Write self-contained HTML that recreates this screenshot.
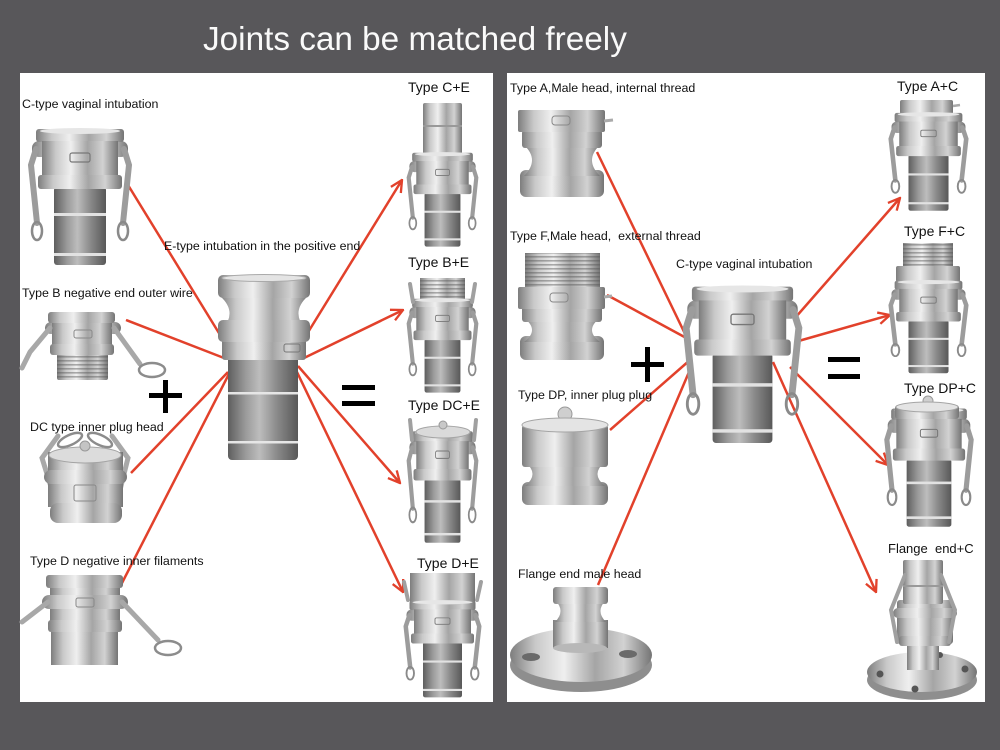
<!DOCTYPE html>
<html><head><meta charset="utf-8"><style>
html,body{margin:0;padding:0;background:#58575a;}
svg{display:block;}
text{font-family:"Liberation Sans",Arial,sans-serif;}
</style></head><body>
<svg width="1000" height="750" viewBox="0 0 1000 750" xmlns="http://www.w3.org/2000/svg">
<defs>
<linearGradient id="m" x1="0" x2="1" y1="0" y2="0">
<stop offset="0" stop-color="#7d7d7d"/><stop offset=".18" stop-color="#c9c9c9"/><stop offset=".38" stop-color="#efefef"/><stop offset=".6" stop-color="#a5a5a5"/><stop offset=".8" stop-color="#d2d2d2"/><stop offset="1" stop-color="#747474"/>
</linearGradient>
<linearGradient id="d" x1="0" x2="1" y1="0" y2="0">
<stop offset="0" stop-color="#5e5e5e"/><stop offset=".25" stop-color="#9a9a9a"/><stop offset=".45" stop-color="#bdbdbd"/><stop offset=".7" stop-color="#8a8a8a"/><stop offset="1" stop-color="#585858"/>
</linearGradient>
<pattern id="th" width="4" height="4" patternUnits="userSpaceOnUse"><rect width="4" height="1.6" fill="#555" opacity=".45"/></pattern>
<marker id="ar" viewBox="0 0 12 12" refX="11" refY="6" markerWidth="14" markerHeight="14" markerUnits="userSpaceOnUse" orient="auto">
<path d="M1,1 L11,6 L1,11" fill="none" stroke="#e2412b" stroke-width="2"/>
</marker>
<g id="cc">
<rect x="24" y="62" width="52" height="78" rx="3" fill="url(#d)"/>
<rect x="24" y="88" width="52" height="3" fill="#e2e2e2"/>
<rect x="24" y="128" width="52" height="3" fill="#e2e2e2"/>
<rect x="2" y="16" width="96" height="16" rx="7" fill="url(#m)"/>
<rect x="6" y="4" width="88" height="13" rx="3" fill="url(#m)"/>
<ellipse cx="50" cy="6" rx="40" ry="3" fill="#e6e6e6"/>
<rect x="12" y="16" width="76" height="40" fill="url(#m)"/>
<rect x="8" y="50" width="84" height="14" rx="3" fill="url(#m)"/>
<rect x="40" y="28" width="20" height="9" rx="2" fill="none" stroke="#777" stroke-width="1.2"/>
<path d="M6,24 L1,40 L7,98" stroke="#9c9c9c" stroke-width="6" fill="none" stroke-linecap="round"/>
<path d="M94,24 L99,40 L93,98" stroke="#9c9c9c" stroke-width="6" fill="none" stroke-linecap="round"/>
<ellipse cx="7" cy="106" rx="5" ry="9" fill="none" stroke="#8a8a8a" stroke-width="2.5"/>
<ellipse cx="93" cy="106" rx="5" ry="9" fill="none" stroke="#8a8a8a" stroke-width="2.5"/>
</g>
</defs>

<rect width="1000" height="750" fill="#58575a"/>
<text x="203" y="50" font-size="33.3" fill="#fafafa">Joints can be matched freely</text>
<rect x="20" y="73" width="473" height="629" fill="#fff"/>
<rect x="507" y="73" width="478" height="629" fill="#fff"/>

<!-- red lines -->
<g stroke="#e2412b" stroke-width="2.5" fill="none">
<line x1="128" y1="185" x2="222" y2="338"/>
<line x1="126" y1="320" x2="224" y2="358"/>
<line x1="131" y1="473" x2="228" y2="372"/>
<line x1="122" y1="583" x2="232" y2="368"/>
<line x1="302" y1="342" x2="402" y2="180" marker-end="url(#ar)"/>
<line x1="304" y1="358" x2="403" y2="310" marker-end="url(#ar)"/>
<line x1="298" y1="366" x2="400" y2="483" marker-end="url(#ar)"/>
<line x1="296" y1="370" x2="403" y2="592" marker-end="url(#ar)"/>
<line x1="597" y1="152" x2="688" y2="340"/>
<line x1="607" y1="295" x2="690" y2="340"/>
<line x1="610" y1="430" x2="690" y2="360"/>
<line x1="598" y1="585" x2="692" y2="365"/>
<line x1="795" y1="318" x2="900" y2="198" marker-end="url(#ar)"/>
<line x1="795" y1="342" x2="890" y2="315" marker-end="url(#ar)"/>
<line x1="790" y1="367" x2="888" y2="465" marker-end="url(#ar)"/>
<line x1="773" y1="362" x2="876" y2="592" marker-end="url(#ar)"/>
</g>

<!-- LEFT PANEL fittings -->
<use href="#cc" transform="translate(30,125)"/>

<!-- E-type -->
<rect x="228" y="350" width="70" height="110" rx="4" fill="url(#d)"/>
<rect x="228" y="392" width="70" height="2.5" fill="#e6e6e6"/>
<rect x="228" y="441" width="70" height="2.5" fill="#e6e6e6"/>
<rect x="222" y="338" width="84" height="22" rx="3" fill="url(#m)"/>
<path d="M220,296 Q238,312 222,330 L306,330 Q290,312 308,296 Z" fill="url(#m)"/>
<rect x="218" y="320" width="92" height="22" rx="5" fill="url(#m)"/>
<rect x="218" y="275" width="92" height="23" rx="5" fill="url(#m)"/>
<ellipse cx="264" cy="278" rx="42" ry="3.5" fill="#e4e4e4" stroke="#aaa"/>
<rect x="284" y="344" width="16" height="8" rx="2" fill="none" stroke="#777"/>

<!-- Type B -->
<rect x="57" y="352" width="51" height="28" rx="2" fill="url(#m)"/>
<rect x="57" y="352" width="51" height="28" fill="url(#th)"/>
<rect x="45" y="322" width="76" height="12" rx="6" fill="url(#m)"/>
<rect x="52" y="320" width="60" height="30" fill="url(#m)"/>
<rect x="48" y="312" width="67" height="11" rx="3" fill="url(#m)"/>
<rect x="50" y="344" width="64" height="11" rx="3" fill="url(#m)"/>
<rect x="74" y="330" width="18" height="8" rx="2" fill="none" stroke="#888"/>
<path d="M50,328 L30,352 L22,368" stroke="#a8a8a8" stroke-width="5" fill="none" stroke-linecap="round"/>
<path d="M114,328 L140,364" stroke="#a8a8a8" stroke-width="5" fill="none" stroke-linecap="round"/>
<ellipse cx="152" cy="370" rx="13" ry="7" fill="none" stroke="#8c8c8c" stroke-width="2.5"/>

<!-- DC -->
<path d="M52,490 L42,458 L58,436" stroke="#a8a8a8" stroke-width="5" fill="none" stroke-linecap="round"/>
<path d="M120,490 L128,458 L112,436" stroke="#a8a8a8" stroke-width="5" fill="none" stroke-linecap="round"/>
<ellipse cx="70" cy="440" rx="13" ry="5" transform="rotate(-25 70 440)" fill="none" stroke="#8c8c8c" stroke-width="2.5"/>
<ellipse cx="100" cy="440" rx="13" ry="5" transform="rotate(25 100 440)" fill="none" stroke="#8c8c8c" stroke-width="2.5"/>
<rect x="48" y="452" width="75" height="55" fill="url(#m)"/>
<rect x="44" y="470" width="83" height="14" rx="7" fill="url(#m)"/>
<rect x="50" y="503" width="72" height="20" rx="8" fill="url(#m)"/>
<ellipse cx="85" cy="455" rx="36" ry="8" fill="#dcdcdc" stroke="#a5a5a5"/>
<circle cx="85" cy="446" r="5" fill="#c4c4c4" stroke="#999"/>
<rect x="74" y="485" width="22" height="16" rx="2" fill="none" stroke="#888"/>

<!-- D -->
<rect x="51" y="630" width="67" height="35" fill="url(#m)"/>
<rect x="50" y="585" width="70" height="40" fill="url(#m)"/>
<rect x="42" y="595" width="86" height="14" rx="7" fill="url(#m)"/>
<rect x="46" y="575" width="77" height="13" rx="3" fill="url(#m)"/>
<rect x="48" y="620" width="74" height="12" rx="3" fill="url(#m)"/>
<rect x="76" y="598" width="18" height="9" rx="2" fill="none" stroke="#888"/>
<path d="M48,602 L22,622" stroke="#a8a8a8" stroke-width="5" fill="none" stroke-linecap="round"/>
<path d="M122,602 L158,640" stroke="#a8a8a8" stroke-width="5" fill="none" stroke-linecap="round"/>
<ellipse cx="168" cy="648" rx="13" ry="7" fill="none" stroke="#8c8c8c" stroke-width="2.5"/>

<!-- C+E -->
<rect x="423" y="103" width="39" height="55" rx="2" fill="url(#m)"/>
<rect x="423" y="125" width="39" height="2" fill="#999"/>
<use href="#cc" transform="translate(408,150) scale(0.69,0.69)"/>

<!-- B+E -->
<rect x="420" y="278" width="45" height="26" fill="url(#m)"/>
<rect x="420" y="278" width="45" height="26" fill="url(#th)"/>
<use href="#cc" transform="translate(408,296) scale(0.69,0.69)"/>
<path d="M413,302 L410,284" stroke="#a0a0a0" stroke-width="4" stroke-linecap="round"/>
<path d="M472,302 L475,284" stroke="#a0a0a0" stroke-width="4" stroke-linecap="round"/>

<!-- DC+E -->
<use href="#cc" transform="translate(408,428) scale(0.69,0.82)"/>
<ellipse cx="443" cy="432" rx="27" ry="6" fill="#dadada" stroke="#a5a5a5"/>
<circle cx="443" cy="425" r="4" fill="#c8c8c8" stroke="#999"/>
<path d="M412,440 L410,420" stroke="#a0a0a0" stroke-width="4" stroke-linecap="round"/>
<path d="M474,440 L476,420" stroke="#a0a0a0" stroke-width="4" stroke-linecap="round"/>

<!-- D+E -->
<rect x="410" y="573" width="65" height="32" fill="url(#m)"/>
<use href="#cc" transform="translate(405,598) scale(0.75,0.71)"/>
<path d="M408,600 L404,582" stroke="#a0a0a0" stroke-width="4" stroke-linecap="round"/>
<path d="M477,600 L481,582" stroke="#a0a0a0" stroke-width="4" stroke-linecap="round"/>

<!-- signs left -->
<rect x="149" y="393" width="33" height="5" fill="#000"/>
<rect x="163" y="380" width="5" height="33" fill="#000"/>
<rect x="342" y="385" width="33" height="5" fill="#000"/>
<rect x="342" y="401" width="33" height="5" fill="#000"/>

<!-- RIGHT PANEL fittings -->
<!-- Type A -->
<rect x="520" y="170" width="84" height="27" rx="6" fill="url(#m)"/>
<path d="M524,145 Q540,160 524,176 L600,176 Q584,160 600,145 Z" fill="url(#m)"/>
<rect x="522" y="130" width="80" height="18" rx="3" fill="url(#m)"/>
<rect x="518" y="110" width="87" height="22" rx="2" fill="url(#m)"/>
<rect x="552" y="116" width="18" height="9" rx="3" fill="none" stroke="#888"/>
<path d="M604,121 L613,120" stroke="#aaa" stroke-width="3"/>

<!-- Type F -->
<rect x="520" y="336" width="84" height="24" rx="6" fill="url(#m)"/>
<path d="M524,318 Q540,330 524,342 L600,342 Q584,330 600,318 Z" fill="url(#m)"/>
<rect x="522" y="306" width="80" height="16" rx="3" fill="url(#m)"/>
<rect x="525" y="253" width="75" height="36" fill="url(#m)"/>
<rect x="525" y="253" width="75" height="36" fill="url(#th)"/>
<rect x="518" y="287" width="87" height="22" rx="2" fill="url(#m)"/>
<rect x="550" y="293" width="18" height="9" rx="3" fill="none" stroke="#888"/>
<path d="M604,297 L612,296" stroke="#aaa" stroke-width="3"/>

<!-- DP -->
<rect x="522" y="482" width="86" height="23" rx="6" fill="url(#m)"/>
<path d="M525,462 Q540,474 525,486 L605,486 Q590,474 605,462 Z" fill="url(#m)"/>
<rect x="522" y="425" width="86" height="42" rx="3" fill="url(#m)"/>
<circle cx="565" cy="414" r="7" fill="#cfcfcf" stroke="#999"/>
<ellipse cx="565" cy="425" rx="43" ry="7" fill="#e4e4e4" stroke="#a5a5a5"/>

<!-- Flange male -->
<ellipse cx="581" cy="665" rx="71" ry="27" fill="#8e8e8e"/>
<ellipse cx="581" cy="655" rx="71" ry="27" fill="url(#m)"/>
<ellipse cx="531" cy="657" rx="9" ry="4" fill="#6a6a6a"/>
<ellipse cx="628" cy="654" rx="9" ry="4" fill="#6a6a6a"/>
<rect x="553" y="620" width="55" height="28" fill="url(#m)"/>
<ellipse cx="580" cy="648" rx="27" ry="5" fill="#b8b8b8"/>
<path d="M555,600 Q566,611 555,622 L606,622 Q595,611 606,600 Z" fill="url(#m)"/>
<rect x="553" y="587" width="55" height="17" rx="3" fill="url(#m)"/>

<!-- C center -->
<use href="#cc" transform="translate(685,282) scale(1.15,1.15)"/>

<!-- A+C -->
<rect x="900" y="100" width="53" height="14" rx="2" fill="url(#m)"/>
<path d="M953,106 L960,105" stroke="#aaa" stroke-width="2.5"/>
<use href="#cc" transform="translate(890,110) scale(0.77,0.72)"/>

<!-- F+C -->
<rect x="903" y="243" width="50" height="26" fill="url(#m)"/>
<rect x="903" y="243" width="50" height="26" fill="url(#th)"/>
<rect x="896" y="266" width="64" height="16" rx="2" fill="url(#m)"/>
<use href="#cc" transform="translate(890,278) scale(0.77,0.68)"/>

<!-- DP+C -->
<use href="#cc" transform="translate(886,405) scale(0.86,0.87)"/>
<rect x="895" y="405" width="64" height="14" rx="3" fill="url(#m)"/>
<circle cx="928" cy="401" r="5" fill="#cfcfcf" stroke="#999"/>
<ellipse cx="927" cy="407" rx="31" ry="5" fill="#e4e4e4" stroke="#a5a5a5"/>

<!-- Flange end+C -->
<ellipse cx="922" cy="680" rx="55" ry="20" fill="#8e8e8e"/>
<ellipse cx="922" cy="672" rx="55" ry="20" fill="url(#m)"/>
<circle cx="880" cy="674" r="3.5" fill="#555"/>
<circle cx="965" cy="669" r="3.5" fill="#555"/>
<circle cx="915" cy="689" r="3.5" fill="#555"/>
<circle cx="940" cy="655" r="3" fill="#555"/>
<rect x="907" y="640" width="32" height="30" fill="url(#m)"/>
<rect x="897" y="600" width="56" height="44" rx="3" fill="url(#m)"/>
<rect x="893" y="608" width="64" height="10" rx="5" fill="url(#m)"/>
<rect x="899" y="636" width="52" height="10" rx="3" fill="url(#m)"/>
<rect x="903" y="560" width="40" height="44" rx="2" fill="url(#m)"/>
<rect x="903" y="585" width="40" height="2" fill="#999"/>
<path d="M905,575 L891,610 L897,642" stroke="#a0a0a0" stroke-width="4" fill="none" stroke-linecap="round"/>
<path d="M941,575 L955,610 L949,642" stroke="#a0a0a0" stroke-width="4" fill="none" stroke-linecap="round"/>

<!-- signs right -->
<rect x="631" y="362" width="33" height="5" fill="#000"/>
<rect x="645" y="347" width="5" height="35" fill="#000"/>
<rect x="828" y="357" width="32" height="5" fill="#000"/>
<rect x="828" y="374" width="32" height="5" fill="#000"/>

<!-- labels -->
<g font-size="12.4" fill="#111">
<text x="22" y="108">C-type vaginal intubation</text>
<text x="164" y="250">E-type intubation in the positive end</text>
<text x="22" y="297">Type B negative end outer wire</text>
<text x="30" y="431">DC type inner plug head</text>
<text x="30" y="565">Type D negative inner filaments</text>
<text x="510" y="92">Type A,Male head, internal thread</text>
<text x="510" y="240" xml:space="preserve">Type F,Male head,  external thread</text>
<text x="676" y="268">C-type vaginal intubation</text>
<text x="518" y="399">Type DP, inner plug plug</text>
<text x="518" y="578">Flange end male head</text>
</g>
<g font-size="14" fill="#111">
<text x="408" y="92">Type C+E</text>
<text x="408" y="267">Type B+E</text>
<text x="408" y="410">Type DC+E</text>
<text x="417" y="568">Type D+E</text>
<text x="897" y="91">Type A+C</text>
<text x="904" y="236">Type F+C</text>
<text x="904" y="393">Type DP+C</text>
<text x="888" y="553" font-size="13" xml:space="preserve">Flange  end+C</text>
</g>
</svg>
</body></html>
